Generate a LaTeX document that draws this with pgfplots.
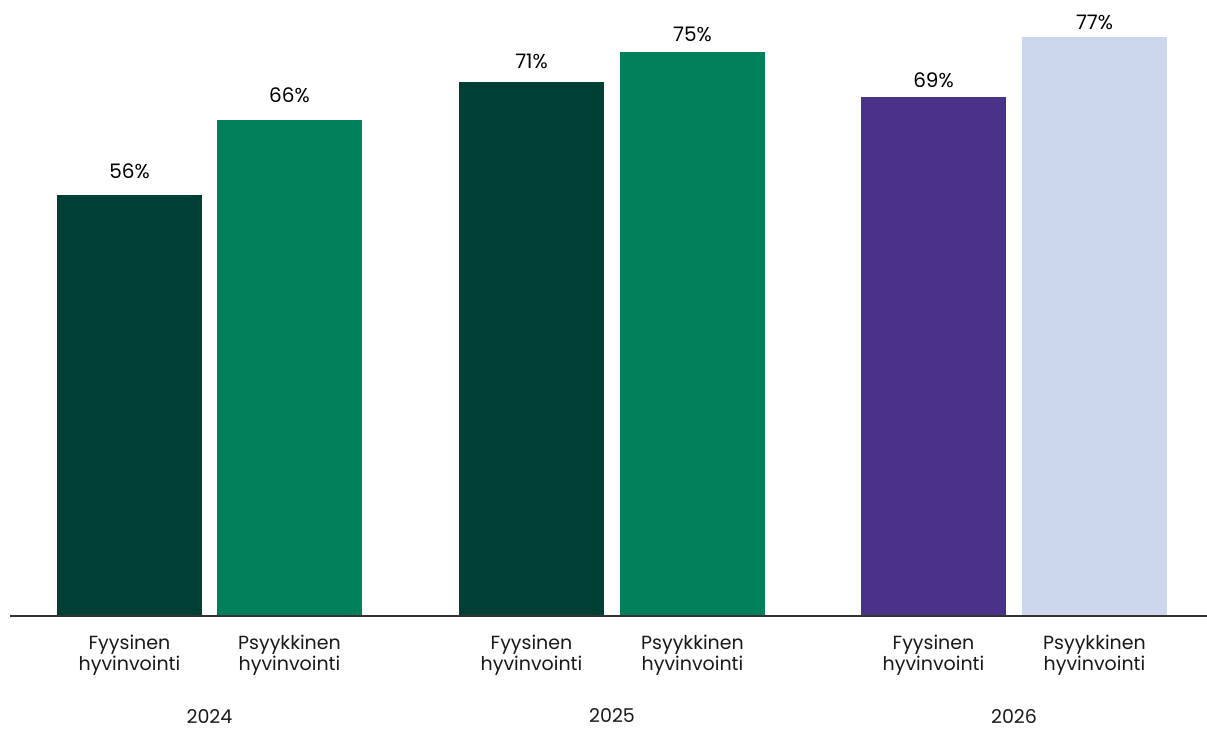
\documentclass[border=0pt]{standalone}
\usepackage{pgfplots}
\pgfplotsset{compat=1.18}
\usepackage{fontspec}
\setmainfont{Poppins}
\definecolor{dkgreen}{HTML}{003F33}
\definecolor{mgreen}{HTML}{00805A}
\definecolor{purp}{HTML}{4A318A}
\definecolor{lblue}{HTML}{CCD7EE}
\tikzset{lbl/.style={font=\fontsize{19}{20.5}\selectfont, align=center, text=black!90}}
\begin{document}
\begin{tikzpicture}
\begin{axis}[
  width=1207pt, height=728pt, scale only axis,
  xmin=0, xmax=1207, ymin=-14.894, ymax=81.915,
  hide axis, clip=false,
  bar width=145,
  /pgf/number format/assume math mode=true,
  every axis plot/.append style={ybar, bar shift=0pt, draw=none},
  nodes near coords={\pgfmathprintnumber{\pgfplotspointmeta}\%},
  every node near coord/.append style={font=\fontsize{20}{22}\selectfont, text=black, anchor=center},
]
\addplot[fill=dkgreen, every node near coord/.append style={yshift=24pt}] coordinates {(129.5,56)};
\addplot[fill=mgreen, every node near coord/.append style={yshift=24pt}] coordinates {(289.5,66)};
\addplot[fill=dkgreen, every node near coord/.append style={yshift=21pt}] coordinates {(531.5,71)};
\addplot[fill=mgreen, every node near coord/.append style={yshift=18pt}] coordinates {(692.5,75)};
\addplot[fill=purp, every node near coord/.append style={yshift=17pt}] coordinates {(933.5,69)};
\addplot[fill=lblue, every node near coord/.append style={yshift=15pt}] coordinates {(1094.5,77)};
\addplot[sharp plot, draw=black!80, line width=1.2pt, nodes near coords={}, forget plot] coordinates {(10,0) (1207,0)};
\node[lbl] at (axis cs:129.5,-5.2) {Fyysinen\\hyvinvointi};
\node[lbl] at (axis cs:531.5,-5.2) {Fyysinen\\hyvinvointi};
\node[lbl] at (axis cs:933.5,-5.2) {Fyysinen\\hyvinvointi};
\node[lbl] at (axis cs:289.5,-5.2) {Psyykkinen\\hyvinvointi};
\node[lbl] at (axis cs:692.5,-5.2) {Psyykkinen\\hyvinvointi};
\node[lbl] at (axis cs:1094.5,-5.2) {Psyykkinen\\hyvinvointi};
\node[lbl, inner sep=0pt] at (axis cs:209.5,-13.3) {2024};
\node[lbl, inner sep=0pt] at (axis cs:612,-13.3) {2025};
\node[lbl, inner sep=0pt] at (axis cs:1014,-13.3) {2026};
\end{axis}
\pgfresetboundingbox
\useasboundingbox (current axis.south west) rectangle (current axis.north east);
\end{tikzpicture}
\end{document}
